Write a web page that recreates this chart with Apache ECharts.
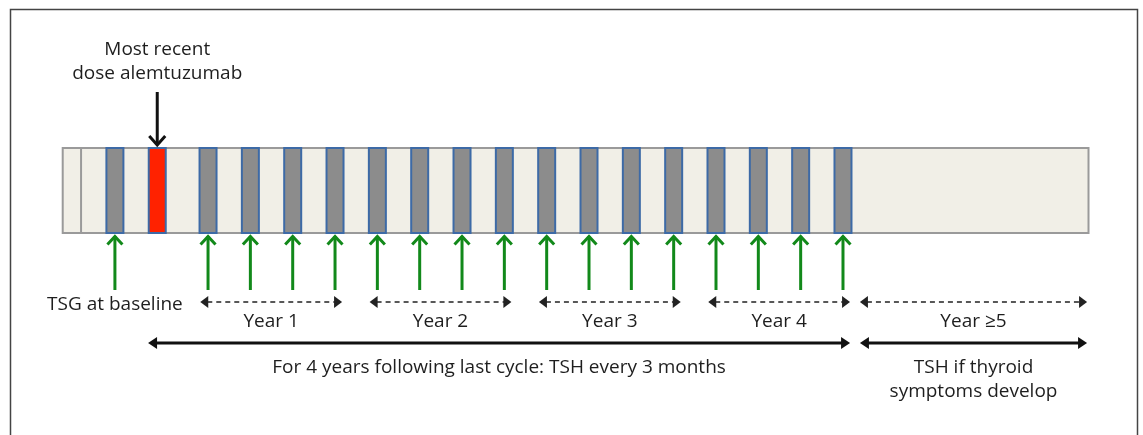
<!DOCTYPE html>
<html>
<head>
<meta charset="utf-8">
<script src="https://cdn.jsdelivr.net/npm/echarts@6/dist/echarts.min.js"></script>
<style>
  html, body { margin: 0; padding: 0; background: #fff; }
  #chart { width: 1143px; height: 435px; }
</style>
</head>
<body>
<div id="chart"></div>
<script>
// timeline in months (dose ~ 0)
var timelineSpan = [-7.3, 65.4];      // pale strip
var timelineDivider = [-6.0];
var baselineMonth = [-3.6];            // TSG at baseline
var doseMonth = [-0.6];                // most recent dose alemtuzumab
var tshMonths = [3, 6, 9, 12, 15, 18, 21, 24, 27, 30, 33, 36, 39, 42, 45, 48];
var yearLabels = ['Year 1', 'Year 2', 'Year 3', 'Year 4', 'Year \u22655'];
var yearStart = [2.45, 14.45, 26.45, 38.45, 49.2];
var yearEnd = [12.5, 24.5, 36.5, 48.5, 65.3];
var phaseLabels = ['For 4 years following last cycle: TSH every 3 months', 'TSH if thyroid\nsymptoms develop'];
var phaseStart = [-1.25, 49.2];
var phaseEnd = [48.5, 65.3];

var FONT = '19px "Open Sans", "Noto Sans", sans-serif';
var TXT = '#1e1e1e';

// y levels (pixel rows, y axis runs 0..435 downward)
var Y = {
  barTop: 148, barBottom: 233,
  doseArrowTop: 92,
  greenTop: 235, greenBottom: 290,
  yearArrow: 302, yearText: 322,
  phaseArrow: 343, phaseText: 368,
  baseText: 305, doseText1: 50, doseText2: 74
};

function arrowHead(x, y, dir, w, h, color) {
  // filled head, tip at (x,y)
  var pts;
  if (dir === 'left') pts = [[x, y], [x + h, y - w / 2], [x + h, y + w / 2]];
  else pts = [[x, y], [x - h, y - w / 2], [x - h, y + w / 2]];
  return { type: 'polygon', shape: { points: pts }, style: { fill: color } };
}

function chevron(x, y, dir, w, h, color, lw) {
  // open V head, tip at (x,y)
  var s = dir === 'up' ? 1 : -1;
  return { type: 'polyline', shape: { points: [[x - w / 2, y + s * h], [x, y], [x + w / 2, y + s * h]] },
    style: { stroke: color, lineWidth: lw, fill: null, lineJoin: 'miter' } };
}

function hArrow(x1, x2, y, color, lw, dash, hw, hh) {
  return {
    type: 'group',
    children: [
      { type: 'line', shape: { x1: x1 + hh - 1, y1: y, x2: x2 - hh + 1, y2: y },
        style: { stroke: color, lineWidth: lw, lineDash: dash ? [5, 4] : null } },
      arrowHead(x1, y, 'left', hw, hh, color),
      arrowHead(x2, y, 'right', hw, hh, color)
    ]
  };
}

function txt(s, x, y) {
  return { type: 'text', style: { text: s, x: x, y: y, fill: TXT, font: FONT, align: 'center', verticalAlign: 'middle', lineHeight: 24 } };
}

var chart = echarts.init(document.getElementById('chart'));

var option = {
  animation: false,
  backgroundColor: '#fff',
  grid: { left: 10.5, right: 3.7, top: 0, bottom: 0 },
  xAxis: { type: 'value', min: -11, max: 69, show: false },
  yAxis: { type: 'value', min: 0, max: 435, inverse: true, show: false },
  graphic: [{
    type: 'rect', left: 8, top: 7, shape: { width: 1127, height: 440 },
    style: { fill: null, stroke: '#444', lineWidth: 1.5 }, silent: true
  }],
  series: [
    { // pale strip
      type: 'custom', z: 1,
      data: [timelineSpan],
      renderItem: function (params, api) {
        var a = api.coord([api.value(0), Y.barTop]);
        var b = api.coord([api.value(1), Y.barBottom]);
        var d = api.coord([timelineDivider[0], 0]);
        return { type: 'group', children: [
          { type: 'rect', shape: { x: a[0], y: a[1], width: b[0] - a[0], height: b[1] - a[1] },
            style: { fill: '#f1efe7', stroke: '#9a9a9a', lineWidth: 2 } },
          { type: 'line', shape: { x1: d[0], y1: a[1], x2: d[0], y2: b[1] },
            style: { stroke: '#9a9a9a', lineWidth: 2 } }
        ] };
      }
    },
    { // test bars + green arrows
      type: 'custom', z: 3,
      data: baselineMonth.concat(tshMonths).map(function (m) { return [m]; }),
      renderItem: function (params, api) {
        var c = api.coord([api.value(0), Y.barTop]);
        var b = api.coord([api.value(0), Y.barBottom]);
        var g1 = api.coord([api.value(0), Y.greenTop]);
        var g2 = api.coord([api.value(0), Y.greenBottom]);
        return { type: 'group', children: [
          { type: 'rect', shape: { x: c[0] - 8.5, y: c[1], width: 17, height: b[1] - c[1] },
            style: { fill: '#8c8c8c', stroke: '#3d6aa6', lineWidth: 2 } },
          { type: 'line', shape: { x1: g1[0], y1: g1[1] + 1, x2: g2[0], y2: g2[1] },
            style: { stroke: '#12891a', lineWidth: 3 } },
          chevron(g1[0], g1[1] + 1.5, 'up', 15, 8, '#12891a', 3)
        ] };
      }
    },
    { // dose bar + black arrow + label
      type: 'custom', z: 3,
      data: doseMonth.map(function (m) { return [m]; }),
      renderItem: function (params, api) {
        var c = api.coord([api.value(0), Y.barTop]);
        var b = api.coord([api.value(0), Y.barBottom]);
        var t = api.coord([api.value(0), Y.doseArrowTop]);
        return { type: 'group', children: [
          { type: 'rect', shape: { x: c[0] - 8.5, y: c[1], width: 17, height: b[1] - c[1] },
            style: { fill: '#ff2200', stroke: '#3d6aa6', lineWidth: 2 } },
          { type: 'line', shape: { x1: t[0], y1: t[1], x2: c[0], y2: c[1] - 3 },
            style: { stroke: '#111', lineWidth: 3 } },
          chevron(c[0], c[1] - 3, 'down', 16, 9, '#111', 3),
          txt('Most recent', t[0], api.coord([0, Y.doseText1])[1]),
          txt('dose alemtuzumab', t[0], api.coord([0, Y.doseText2])[1])
        ] };
      }
    },
    { // baseline label
      type: 'custom', z: 3,
      data: baselineMonth.map(function (m) { return [m]; }),
      renderItem: function (params, api) {
        var p = api.coord([api.value(0), Y.baseText]);
        return txt('TSG at baseline', p[0], p[1]);
      }
    },
    { // year arrows (dashed)
      type: 'custom', z: 3,
      data: yearLabels.map(function (l, i) { return [yearStart[i], yearEnd[i], i]; }),
      renderItem: function (params, api) {
        var a = api.coord([api.value(0), Y.yearArrow]);
        var b = api.coord([api.value(1), Y.yearArrow]);
        var ty = api.coord([0, Y.yearText])[1];
        return { type: 'group', children: [
          hArrow(a[0], b[0], a[1], '#222', 1.5, true, 12, 8),
          txt(yearLabels[api.value(2)], (a[0] + b[0]) / 2, ty)
        ] };
      }
    },
    { // phase arrows (solid)
      type: 'custom', z: 3,
      data: phaseLabels.map(function (l, i) { return [phaseStart[i], phaseEnd[i], i]; }),
      renderItem: function (params, api) {
        var a = api.coord([api.value(0), Y.phaseArrow]);
        var b = api.coord([api.value(1), Y.phaseArrow]);
        var i = api.value(2);
        var ty = api.coord([0, Y.phaseText])[1];
        var t = txt(phaseLabels[i], (a[0] + b[0]) / 2, ty);
        t.style.verticalAlign = 'top';
        t.style.y = ty - 12;
        return { type: 'group', children: [
          hArrow(a[0], b[0], a[1], '#111', 3, false, 12, 9),
          t
        ] };
      }
    }
  ]
};

chart.setOption(option);
</script>
</body>
</html>
